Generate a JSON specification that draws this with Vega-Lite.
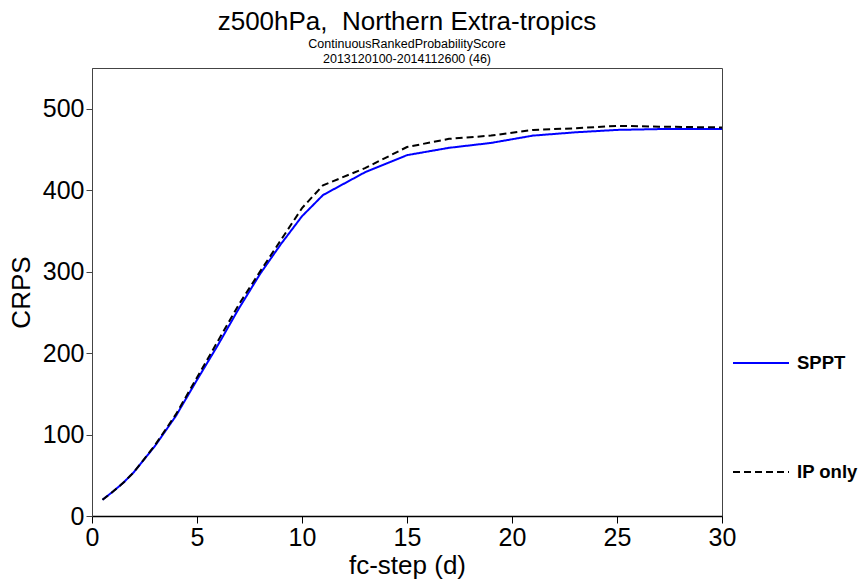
{
  "$schema": "https://vega.github.io/schema/vega-lite/v6.json",
  "autosize": "none",
  "width": 630,
  "height": 448,
  "padding": {"left": 92, "top": 68, "right": 137, "bottom": 65},
  "background": "white",
  "title": {
    "text": "z500hPa,\u00a0 Northern Extra-tropics",
    "subtitle": ["ContinuousRankedProbabilityScore", "2013120100-2014112600 (46)"],
    "anchor": "middle",
    "font": "Liberation Sans",
    "fontSize": 26,
    "fontWeight": "normal",
    "color": "black",
    "subtitleFont": "Liberation Sans",
    "subtitleFontSize": 12.5,
    "subtitleColor": "black",
    "subtitlePadding": 3,
    "subtitleLineHeight": 15,
    "offset": 3
  },
  "config": {
    "view": {"stroke": "#444", "strokeWidth": 1},
    "axis": {
      "labelFont": "Liberation Sans",
      "titleFont": "Liberation Sans",
      "labelFontSize": 25,
      "titleFontSize": 26,
      "labelColor": "black",
      "titleColor": "black",
      "titleFontWeight": "normal",
      "grid": false,
      "tickColor": "black",
      "domainColor": "black"
    },
    "legend": {
      "title": null,
      "orient": "none",
      "legendX": 640,
      "legendY": 266,
      "symbolType": "stroke",
      "symbolSize": 3136,
      "symbolStrokeWidth": 2,
      "labelFont": "Liberation Sans",
      "labelFontSize": 18.5,
      "labelFontWeight": "bold",
      "labelColor": "black",
      "rowPadding": 70,
      "labelOffset": 7
    }
  },
  "data": {
    "values": [
      {"step": 0.5, "crps": 20, "exp": "SPPT"},
      {"step": 1, "crps": 30, "exp": "SPPT"},
      {"step": 1.5, "crps": 41, "exp": "SPPT"},
      {"step": 2, "crps": 54, "exp": "SPPT"},
      {"step": 3, "crps": 86, "exp": "SPPT"},
      {"step": 4, "crps": 123, "exp": "SPPT"},
      {"step": 5, "crps": 167, "exp": "SPPT"},
      {"step": 6, "crps": 210, "exp": "SPPT"},
      {"step": 7, "crps": 255, "exp": "SPPT"},
      {"step": 8, "crps": 297, "exp": "SPPT"},
      {"step": 9, "crps": 334, "exp": "SPPT"},
      {"step": 10, "crps": 368, "exp": "SPPT"},
      {"step": 11, "crps": 394, "exp": "SPPT"},
      {"step": 13, "crps": 422, "exp": "SPPT"},
      {"step": 15, "crps": 443, "exp": "SPPT"},
      {"step": 17, "crps": 452, "exp": "SPPT"},
      {"step": 19, "crps": 458, "exp": "SPPT"},
      {"step": 21, "crps": 467, "exp": "SPPT"},
      {"step": 23, "crps": 471, "exp": "SPPT"},
      {"step": 25, "crps": 474, "exp": "SPPT"},
      {"step": 27, "crps": 475, "exp": "SPPT"},
      {"step": 30, "crps": 475, "exp": "SPPT"},
      {"step": 0.5, "crps": 20, "exp": "IP only"},
      {"step": 1, "crps": 30, "exp": "IP only"},
      {"step": 1.5, "crps": 41, "exp": "IP only"},
      {"step": 2, "crps": 54, "exp": "IP only"},
      {"step": 3, "crps": 87, "exp": "IP only"},
      {"step": 4, "crps": 125, "exp": "IP only"},
      {"step": 5, "crps": 170, "exp": "IP only"},
      {"step": 6, "crps": 215, "exp": "IP only"},
      {"step": 7, "crps": 260, "exp": "IP only"},
      {"step": 8, "crps": 300, "exp": "IP only"},
      {"step": 9, "crps": 339, "exp": "IP only"},
      {"step": 10, "crps": 378, "exp": "IP only"},
      {"step": 11, "crps": 406, "exp": "IP only"},
      {"step": 13, "crps": 427, "exp": "IP only"},
      {"step": 15, "crps": 453, "exp": "IP only"},
      {"step": 17, "crps": 463, "exp": "IP only"},
      {"step": 19, "crps": 467, "exp": "IP only"},
      {"step": 21, "crps": 474, "exp": "IP only"},
      {"step": 23, "crps": 476, "exp": "IP only"},
      {"step": 25, "crps": 479, "exp": "IP only"},
      {"step": 27, "crps": 478, "exp": "IP only"},
      {"step": 30, "crps": 477, "exp": "IP only"}
    ]
  },
  "mark": {"type": "line", "strokeWidth": 2, "clip": true},
  "encoding": {
    "x": {
      "field": "step", "type": "quantitative",
      "scale": {"domain": [0, 30], "nice": false, "zero": false},
      "axis": {"values": [0, 5, 10, 15, 20, 25, 30], "title": "fc-step (d)", "tickSize": 7, "labelPadding": 2, "titlePadding": 2, "domainWidth": 1.5, "labelFlush": false}
    },
    "y": {
      "field": "crps", "type": "quantitative",
      "scale": {"domain": [0, 550], "nice": false},
      "axis": {"values": [0, 100, 200, 300, 400, 500], "title": "CRPS", "tickSize": 6, "labelPadding": 2, "titlePadding": 8, "domainColor": "#444", "tickColor": "#444", "labelFlush": false}
    },
    "color": {
      "field": "exp", "type": "nominal",
      "scale": {"domain": ["SPPT", "IP only"], "range": ["#0000ff", "#000000"]}
    },
    "strokeDash": {
      "field": "exp", "type": "nominal",
      "scale": {"domain": ["SPPT", "IP only"], "range": [[1, 0], [7, 4]]}
    }
  }
}
